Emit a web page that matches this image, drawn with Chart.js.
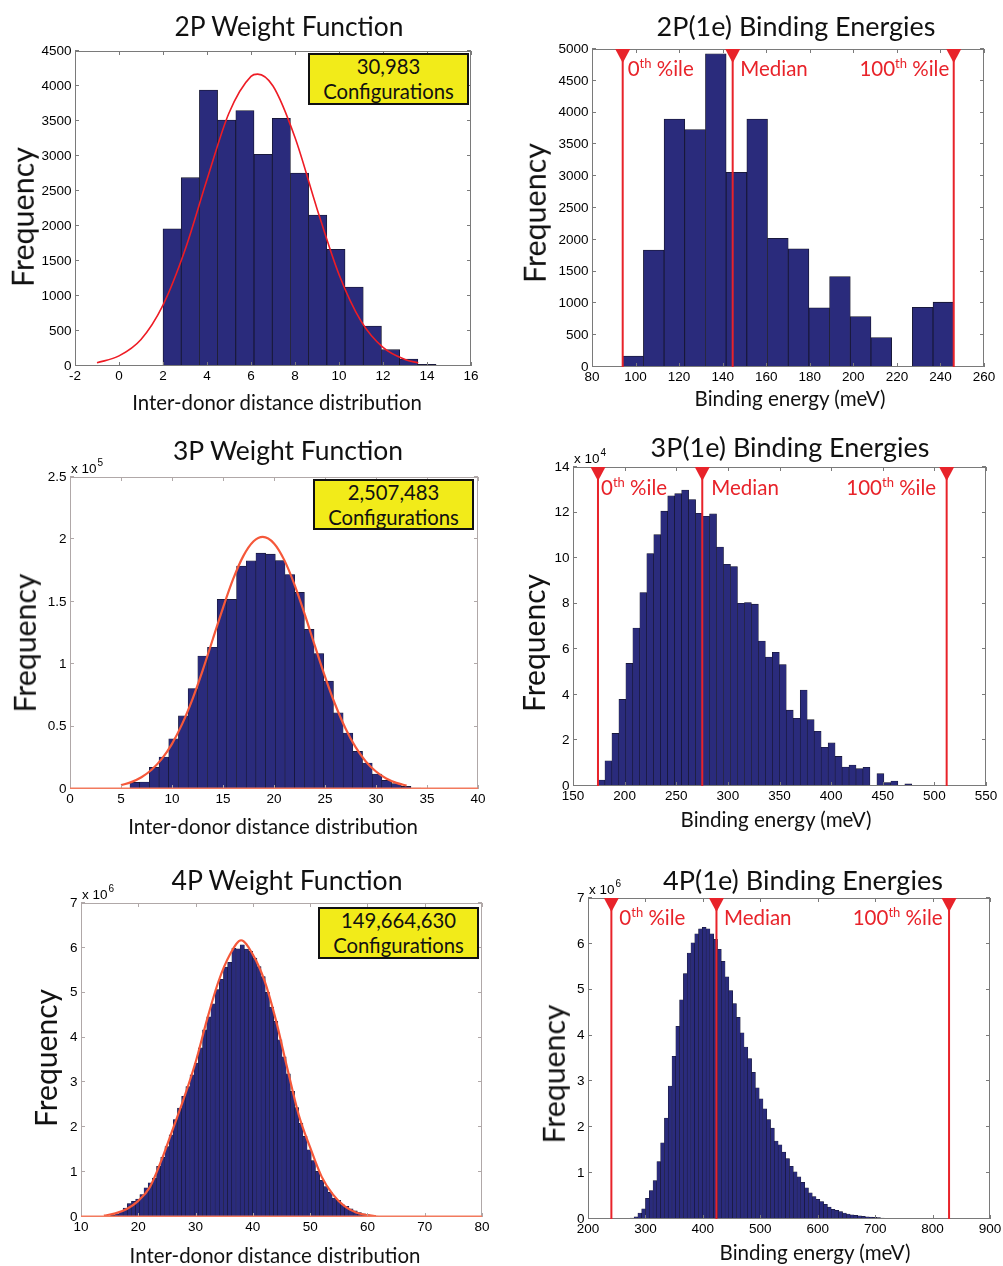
<!DOCTYPE html>
<html lang="en">
<head>
<meta charset="UTF-8">
<title>Weight functions and binding energies</title>
<script src="https://cdn.jsdelivr.net/npm/chart.js"></script>
<style>
  body { margin: 0; background: #fff; }
  #fig { position: relative; width: 1003px; height: 1266px; overflow: hidden; }
  canvas { position: absolute; }
  .t {
    position: absolute; white-space: nowrap; font-family: Lato, sans-serif;
    line-height: 1; color: #111; transform: translate(-50%, -50%);
  }
  .rot { transform: translate(-50%, -50%) rotate(-90deg); }
  .box {
    position: absolute; box-sizing: border-box; border: 2px solid #111;
    background: #f2eb19; font-family: Lato, sans-serif; font-size: 20.3px;
    line-height: 25px; text-align: center; color: #111;
  }
  .box div { margin-top: -1.5px; }
</style>
</head>
<body>
<div id="fig">
  <canvas id="w2"></canvas>
  <canvas id="b2"></canvas>
  <canvas id="w3"></canvas>
  <canvas id="b3"></canvas>
  <canvas id="w4"></canvas>
  <canvas id="b4"></canvas>

  <div class="t" data-w="229" style="left:289px;top:26px">2P Weight Function</div>
  <div class="t" data-w="279" style="left:796px;top:26px">2P(1e) Binding Energies</div>
  <div class="t" data-w="230" style="left:288px;top:450px">3P Weight Function</div>
  <div class="t" data-w="279" style="left:790px;top:447px">3P(1e) Binding Energies</div>
  <div class="t" data-w="231" style="left:287px;top:880px">4P Weight Function</div>
  <div class="t" data-w="280" style="left:803px;top:880px">4P(1e) Binding Energies</div>

  <div class="t" data-w="290" style="left:277px;top:402px">Inter-donor distance distribution</div>
  <div class="t" data-w="191" style="left:790px;top:398px">Binding energy (meV)</div>
  <div class="t" data-w="290" style="left:273px;top:826px">Inter-donor distance distribution</div>
  <div class="t" data-w="191" style="left:776px;top:819px">Binding energy (meV)</div>
  <div class="t" data-w="291" style="left:275px;top:1255px">Inter-donor distance distribution</div>
  <div class="t" data-w="191" style="left:815px;top:1252px">Binding energy (meV)</div>

  <div class="t rot" data-w="140" style="left:22px;top:217px">Frequency</div>
  <div class="t rot" data-w="140" style="left:534px;top:213px">Frequency</div>
  <div class="t rot" data-w="139" style="left:24px;top:643px">Frequency</div>
  <div class="t rot" data-w="138" style="left:533px;top:643px">Frequency</div>
  <div class="t rot" data-w="138" style="left:45px;top:1058px">Frequency</div>
  <div class="t rot" data-w="139" style="left:553px;top:1074px">Frequency</div>

  <div class="box" style="left:308px;top:53px;width:161px;height:52px"><div>30,983<br>Configurations</div></div>
  <div class="box" style="left:313px;top:479px;width:161px;height:51px"><div>2,507,483<br>Configurations</div></div>
  <div class="box" style="left:318px;top:907px;width:161px;height:52px"><div>149,664,630<br>Configurations</div></div>
</div>

<script>
// ---- 2P weight function (inter-donor distance histogram + gaussian fit)
const w2Start = 2.0, w2Bin = 0.8275;
const w2Counts = [1960, 2690, 3943, 3514, 3648, 3024, 3538, 2757, 2157, 1667, 1129, 571, 233, 100, 24, 5];
const w2FitX = [-1, 0, 1, 2, 3, 4, 5, 6, 6.3, 7, 8, 9, 10, 11, 12, 13, 13.6];
const w2FitY = [45, 145, 380, 871, 1657, 2664, 3615, 4138, 4170, 4000, 3264, 2248, 1307, 641, 266, 93, 45];

// ---- 2P(1e) binding energies
const b2Start = 94.1, b2Bin = 9.5;
const b2Counts = [173, 1838, 3897, 3734, 4926, 3062, 3897, 2022, 1859, 930, 1423, 793, 462, 0, 940, 1019];
const b2Pct = [94.1, 144.6, 246.1];   // 0th, median, 100th

// ---- 3P weight function (counts x 1e5)
const w3Start = 5.88, w3Bin = 0.95;
const w3Counts = [0.053, 0.056, 0.173, 0.256, 0.402, 0.586, 0.805, 1.066, 1.135, 1.519,
                  1.519, 1.786, 1.828, 1.890, 1.882, 1.831, 1.719, 1.575, 1.279, 1.085,
                  0.864, 0.610, 0.448, 0.301, 0.208, 0.120, 0.069, 0.043, 0.021, 0.008];
const w3FitX = [5, 6, 7, 8, 9, 10, 11, 12, 13, 14, 15, 16, 17, 18, 18.9,
                20, 21, 22, 23, 24, 25, 26, 27, 28, 29, 30, 31, 32, 33];
const w3FitY = [0.031, 0.055, 0.094, 0.154, 0.241, 0.362, 0.522, 0.719, 0.949, 1.200, 1.452, 1.683, 1.868, 1.985, 2.020,
                1.968, 1.836, 1.640, 1.403, 1.149, 0.901, 0.677, 0.487, 0.335, 0.221, 0.140, 0.084, 0.049, 0.027];

// ---- 3P(1e) binding energies (counts x 1e4)
const b3Start = 174.2, b3Bin = 6.754;
const b3Counts = [0.26, 1.11, 2.31, 3.80, 5.38, 6.93, 8.49, 10.2, 11.03, 12.06,
                  12.73, 12.83, 12.99, 12.57, 11.97, 11.84, 11.94, 10.49, 9.73, 9.63,
                  8.02, 8.05, 7.98, 6.36, 5.66, 5.87, 5.33, 3.33, 2.97, 4.21,
                  2.91, 2.40, 1.70, 1.89, 1.30, 0.83, 0.92, 0.76, 0.82, 0,
                  0.54, 0.15, 0.22, 0, 0.09, 0.02, 0.01, 0, 0.01, 0];
const b3Pct = [174.2, 275.2, 511.9];

// ---- 4P weight function (counts x 1e6)
const w4Start = 13.70, w4Bin = 0.73;
const w4Counts = [0.01, 0.02, 0.04, 0.07, 0.12, 0.20, 0.30, 0.35, 0.40, 0.50, 0.65,
                  0.76, 0.87, 1.13, 1.33, 1.57, 1.83, 2.17, 2.43, 2.69, 2.91,
                  3.17, 3.43, 3.77, 4.17, 4.46, 4.75, 5.07, 5.30, 5.57, 5.68, 5.99, 5.98,
                  6.07,
                  5.97, 5.92, 5.77, 5.58, 5.36, 5.01, 4.68, 4.36, 3.95, 3.57,
                  3.19, 2.80, 2.44, 2.09, 1.80, 1.50, 1.26, 1.02, 0.82, 0.68,
                  0.55, 0.42, 0.37, 0.27, 0.24, 0.18, 0.14, 0.10, 0.07, 0.05, 0.03, 0.02, 0.01];
const w4FitX = [14, 16, 18, 20, 22, 24, 26, 28, 30, 32, 34, 36, 37.95,
                40, 42, 44, 46, 48, 50, 52, 54, 56, 58, 60, 61.5];
const w4FitY = [0.03, 0.08, 0.18, 0.36, 0.66, 1.25, 1.95, 2.66, 3.45, 4.40, 5.25, 5.85, 6.17,
                5.85, 5.28, 4.40, 3.32, 2.28, 1.55, 0.90, 0.50, 0.24, 0.10, 0.04, 0.02];

// ---- 4P(1e) binding energies (counts x 1e6)
const b4Start = 240.7, b4Bin = 6.6;
const b4Counts = [0, 0, 0, 0.005, 0.01, 0.02, 0.05, 0.13, 0.22,
                  0.45, 0.62, 0.84, 1.25, 1.66, 2.20, 2.90, 3.55, 4.20, 4.78,
                  5.35, 5.80, 6.02, 6.22, 6.33, 6.36, 6.33, 6.22, 6.10, 5.88,
                  5.62, 5.28, 4.98, 4.70, 4.40, 4.06, 3.75, 3.50, 3.20, 2.86,
                  2.62, 2.40, 2.17, 1.98, 1.70, 1.62, 1.46, 1.32, 1.15, 1.03,
                  0.92, 0.80, 0.68, 0.57, 0.49, 0.43, 0.38, 0.32, 0.26, 0.21,
                  0.19, 0.16, 0.13, 0.11, 0.09, 0.08, 0.07, 0.06, 0.05, 0.04, 0.035, 0.03, 0.02, 0.015,
                  0.01, 0.01, 0.008, 0.006, 0.005, 0.004, 0.003, 0.002, 0.002, 0.001, 0.001, 0, 0, 0, 0, 0];
const b4Pct = [240.7, 423.7, 828.7];

const NAVY = '#2a2b7c';
const EDGE = '#14142a';
const RED = '#e8232a';
const TICK_FONT = {family: '"Liberation Sans", Arial, sans-serif', size: 13.5};
const LABEL_FONT = '20.5px Lato, sans-serif';
const SUP_FONT = '13px Lato, sans-serif';
const PAD = {l: 60, t: 25, r: 15, b: 30};

function binCenters(start, width, n) {
  return Array.from({length: n}, (_, i) => start + width * (i + 0.5));
}

// box, inward tick marks on all four sides, optional "x 10^n" multiplier
function framePlugin(o) {
  return {
    id: 'frame',
    afterDatasetsDraw(chart) {
      const {ctx, chartArea: a, scales: {x, y}} = chart;
      ctx.save();
      ctx.lineWidth = 1;
      ctx.strokeStyle = o.frame;
      ctx.beginPath();
      x.ticks.forEach((t, i) => {
        const px = Math.round(x.getPixelForTick(i)) + 0.5;
        ctx.moveTo(px, a.bottom); ctx.lineTo(px, a.bottom - 4);
        ctx.moveTo(px, a.top); ctx.lineTo(px, a.top + 4);
      });
      y.ticks.forEach((t, i) => {
        const py = Math.round(y.getPixelForTick(i)) - 0.5;
        ctx.moveTo(a.left, py); ctx.lineTo(a.left + 4, py);
        ctx.moveTo(a.right, py); ctx.lineTo(a.right - 4, py);
      });
      ctx.stroke();
      ctx.strokeRect(a.left + 0.5, a.top + 0.5, a.width - 1, a.height - 1);
      if (o.baseline) {
        ctx.strokeStyle = o.baseline;
        ctx.lineWidth = 1.5;
        ctx.beginPath();
        ctx.moveTo(a.left, a.bottom - 0.75); ctx.lineTo(a.right, a.bottom - 0.75);
        ctx.stroke();
      }
      if (o.expo) {
        ctx.fillStyle = '#000';
        ctx.textAlign = 'left';
        ctx.textBaseline = 'alphabetic';
        ctx.font = '13.5px "Liberation Sans", Arial, sans-serif';
        ctx.fillText('x 10', a.left + 1, a.top - 4);
        const w = ctx.measureText('x 10').width;
        ctx.font = '10px "Liberation Sans", Arial, sans-serif';
        ctx.fillText(o.expo, a.left + 2 + w, a.top - 11);
      }
      ctx.restore();
    }
  };
}

// red percentile lines with triangle heads and labels
function percentilePlugin(o) {
  const names = [['0', 'th', ' %ile'], ['Median'], ['100', 'th', ' %ile']];
  return {
    id: 'percentiles',
    afterDatasetsDraw(chart) {
      const {ctx, chartArea: a, scales: {x}} = chart;
      ctx.save();
      ctx.fillStyle = RED;
      ctx.strokeStyle = RED;
      ctx.lineWidth = 2;
      ctx.textAlign = 'left';
      ctx.textBaseline = 'alphabetic';
      o.pct.forEach((v, i) => {
        const px = x.getPixelForValue(v);
        ctx.beginPath();
        ctx.moveTo(px, a.top); ctx.lineTo(px, a.bottom);
        ctx.stroke();
        ctx.beginPath();
        ctx.moveTo(px - 7.5, a.top); ctx.lineTo(px + 7.5, a.top); ctx.lineTo(px, a.top + 14);
        ctx.closePath();
        ctx.fill();

        const parts = names[i];
        const widths = parts.map((p, j) => { ctx.font = j === 1 ? SUP_FONT : LABEL_FONT; return ctx.measureText(p).width; });
        const total = widths.reduce((s, w) => s + w, 0);
        let tx = i === 2 ? px + o.pctOff[i] - total : px + o.pctOff[i];
        const ty = a.top + o.pctBase;
        parts.forEach((p, j) => {
          ctx.font = j === 1 ? SUP_FONT : LABEL_FONT;
          ctx.fillText(p, tx, j === 1 ? ty - 8 : ty);
          tx += widths[j];
        });
      });
      ctx.restore();
    }
  };
}

function histChart(o) {
  const cv = document.getElementById(o.id);
  cv.width = o.w + PAD.l + PAD.r;
  cv.height = o.h + PAD.t + PAD.b;
  cv.style.left = (o.left - PAD.l) + 'px';
  cv.style.top = (o.top - PAD.t) + 'px';

  const centers = binCenters(o.start, o.bin, o.counts.length);
  const datasets = [{
    type: 'bar',
    data: o.counts.map((c, i) => ({x: centers[i], y: c})),
    backgroundColor: NAVY,
    borderColor: EDGE,
    borderWidth: o.edge,
    categoryPercentage: 1,
    barPercentage: 1,
    order: 2
  }];
  if (o.fitX) {
    datasets.push({
      type: 'line',
      data: o.fitX.map((x, i) => ({x, y: o.fitY[i]})),
      borderColor: o.fitColor,
      borderWidth: o.fitWidth,
      pointRadius: 0,
      cubicInterpolationMode: 'monotone',
      order: 1
    });
  }

  const plugins = [framePlugin(o)];
  if (o.pct) plugins.push(percentilePlugin(o));

  new Chart(cv, {
    type: 'bar',
    data: {datasets},
    options: {
      responsive: false,
      animation: false,
      events: [],
      layout: {padding: {left: 0, top: PAD.t, right: PAD.r, bottom: 0}},
      plugins: {legend: {display: false}, tooltip: {enabled: false}},
      scales: {
        x: {
          type: 'linear', offset: false, min: o.xMin, max: o.xMax,
          grid: {display: false, drawTicks: false, offset: false}, border: {display: false},
          ticks: {stepSize: o.xStep, autoSkip: false, maxRotation: 0, padding: 2.5,
                  font: TICK_FONT, color: '#000', callback: v => String(v)},
          afterFit: s => { s.height = PAD.b; }
        },
        y: {
          type: 'linear', min: 0, max: o.yMax,
          grid: {display: false, drawTicks: false}, border: {display: false},
          ticks: {stepSize: o.yStep, autoSkip: false, padding: 3.5,
                  font: TICK_FONT, color: '#000', callback: v => String(v)},
          afterFit: s => { s.width = PAD.l; }
        }
      }
    },
    plugins
  });
}

histChart({id: 'w2', left: 75, top: 51, w: 396, h: 315,
  start: w2Start, bin: w2Bin, counts: w2Counts, edge: 0.8,
  fitX: w2FitX, fitY: w2FitY, fitColor: '#ee1c25', fitWidth: 1.6,
  xMin: -2, xMax: 16, xStep: 2, yMax: 4500, yStep: 500, frame: '#7a7a7a'});

histChart({id: 'b2', left: 592, top: 49, w: 392, h: 318,
  start: b2Start, bin: b2Bin, counts: b2Counts, edge: 0.8,
  xMin: 80, xMax: 260, xStep: 20, yMax: 5000, yStep: 500, frame: '#7a7a7a',
  pct: b2Pct, pctOff: [5, 7.5, -4.5], pctBase: 27});

histChart({id: 'w3', left: 70, top: 477, w: 408, h: 312,
  start: w3Start, bin: w3Bin, counts: w3Counts, edge: 0.6,
  fitX: w3FitX, fitY: w3FitY, fitColor: '#f5583a', fitWidth: 2.2,
  xMin: 0, xMax: 40, xStep: 5, yMax: 2.5, yStep: 0.5, frame: '#b0a8a8',
  baseline: '#f27a5e', expo: '5'});

histChart({id: 'b3', left: 573, top: 467, w: 413, h: 319,
  start: b3Start, bin: b3Bin, counts: b3Counts, edge: 0.6,
  xMin: 150, xMax: 550, xStep: 50, yMax: 14, yStep: 2, frame: '#7a7a7a', expo: '4',
  pct: b3Pct, pctOff: [3, 9, -10.5], pctBase: 28});

histChart({id: 'w4', left: 81, top: 903, w: 401, h: 314,
  start: w4Start, bin: w4Bin, counts: w4Counts, edge: 0.5,
  fitX: w4FitX, fitY: w4FitY, fitColor: '#f5583a', fitWidth: 2.2,
  xMin: 10, xMax: 80, xStep: 10, yMax: 7, yStep: 1, frame: '#b0a8a8',
  baseline: '#f27a5e', expo: '6'});

histChart({id: 'b4', left: 588, top: 898, w: 402, h: 321,
  start: b4Start, bin: b4Bin, counts: b4Counts, edge: 0.5,
  xMin: 200, xMax: 900, xStep: 100, yMax: 7, yStep: 1, frame: '#7a7a7a', expo: '6',
  pct: b4Pct, pctOff: [8, 7.5, -6.5], pctBase: 27});

// size titles and axis labels to their measured spans
document.querySelectorAll('.t[data-w]').forEach(el => {
  el.style.fontSize = '100px';
  el.style.fontSize = (100 * Number(el.dataset.w) / el.offsetWidth).toFixed(2) + 'px';
});
</script>
</body>
</html>
